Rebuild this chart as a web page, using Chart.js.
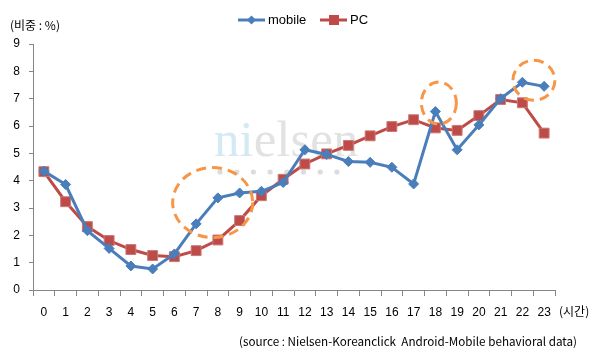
<!DOCTYPE html>
<html>
<head>
<meta charset="utf-8">
<script src="https://cdn.jsdelivr.net/npm/chart.js@4/dist/chart.umd.min.js"></script>
<style>
  html, body { margin: 0; padding: 0; background: #fff; }
  #wrap { width: 595px; height: 363px; position: relative; }
</style>
</head>
<body>
<div id="wrap"><canvas id="chart" width="595" height="363"></canvas></div>
<script>
// 시간대별 비중 (%)
const hours = ['0','1','2','3','4','5','6','7','8','9','10','11','12','13','14','15','16','17','18','19','20','21','22','23'];
const mobile = [4.35, 3.86, 2.17, 1.52, 0.88, 0.77, 1.32, 2.42, 3.37, 3.55, 3.61, 3.93, 5.13, 4.96, 4.70, 4.67, 4.49, 3.88, 6.53, 5.13, 6.04, 7.00, 7.60, 7.45];
const pc = [4.33, 3.23, 2.32, 1.81, 1.48, 1.26, 1.22, 1.44, 1.83, 2.54, 3.45, 4.05, 4.61, 4.98, 5.29, 5.64, 5.98, 6.23, 5.93, 5.84, 6.38, 6.97, 6.85, 5.74];
const yTicks = [0, 1, 2, 3, 4, 5, 6, 7, 8, 9];

// 강조 원 (카테고리 위치, 값, 반지름 px)
const highlights = [
  { at: 7.76, val: 3.2, rx: 40, ry: 35 },
  { at: 18.16, val: 6.84, rx: 17.5, ry: 21 },
  { at: 22.53, val: 7.67, rx: 21, ry: 20 }
];

const blue = '#4A7EBB';
const red = '#BE4B48';
const axisGray = '#868686';
const txtFont = 'Liberation Sans, Arial, sans-serif';

const extras = {
  id: 'extras',
  beforeDatasetsDraw(chart) {
    const ctx = chart.ctx;
    // nielsen 워터마크
    ctx.save();
    ctx.font = '51px "Liberation Serif", serif';
    ctx.textBaseline = 'alphabetic';
    ctx.fillStyle = '#d3e9f4';
    ctx.fillText('ni', 214, 156);
    const w = ctx.measureText('ni').width;
    ctx.fillStyle = '#e2e2e2';
    ctx.fillText('elsen', 214 + w, 156);
    ctx.fillStyle = '#dcdcdc';
    for (let i = 0; i < 8; i++) {
      ctx.beginPath();
      ctx.arc(220 + i * 16.7, 172, 2.6, 0, Math.PI * 2);
      ctx.fill();
    }
    ctx.restore();
  },
  afterDatasetsDraw(chart) {
    const ctx = chart.ctx;
    const xs = chart.scales.x, ys = chart.scales.y;
    ctx.save();
    ctx.strokeStyle = '#F79646';
    ctx.lineWidth = 3;
    ctx.setLineDash([10, 6]);
    highlights.forEach(h => {
      const step = xs.getPixelForValue(1) - xs.getPixelForValue(0);
      const cx = xs.getPixelForValue(0) + h.at * step;
      const cy = ys.getPixelForValue(h.val);
      ctx.beginPath();
      ctx.ellipse(cx, cy, h.rx, h.ry, 0, 0, Math.PI * 2);
      ctx.stroke();
    });
    ctx.restore();
  },
  afterDraw(chart) {
    const ctx = chart.ctx;
    ctx.save();
    ctx.fillStyle = '#000';
    ctx.textBaseline = 'middle';
    ctx.font = '12px "Noto Sans CJK KR", sans-serif';
    ctx.fillText('(비중 : %)', 10, 25);
    ctx.fillText('(시간)', 559, 311);
    ctx.font = '11.7px "Noto Sans CJK KR", sans-serif';
    ctx.textAlign = 'right';
    ctx.fillText('(source : Nielsen-Koreanclick  Android-Mobile behavioral data)', 577, 342);

    // 범례
    ctx.textAlign = 'left';
    ctx.font = '13px ' + txtFont;
    ctx.lineWidth = 3;
    ctx.strokeStyle = blue;
    ctx.beginPath(); ctx.moveTo(238, 20); ctx.lineTo(265, 20); ctx.stroke();
    ctx.fillStyle = blue;
    ctx.beginPath();
    ctx.moveTo(251.5, 15.5); ctx.lineTo(256, 20); ctx.lineTo(251.5, 24.5); ctx.lineTo(247, 20);
    ctx.closePath(); ctx.fill();
    ctx.fillStyle = '#000';
    ctx.fillText('mobile', 268, 20);
    ctx.strokeStyle = red;
    ctx.beginPath(); ctx.moveTo(320, 20); ctx.lineTo(347, 20); ctx.stroke();
    ctx.fillStyle = red;
    ctx.fillRect(329, 15, 10, 10);
    ctx.fillStyle = '#000';
    ctx.fillText('PC', 350, 20);
    ctx.restore();
  }
};

new Chart(document.getElementById('chart'), {
  type: 'line',
  data: {
    labels: hours,
    datasets: [
      {
        label: 'mobile',
        data: mobile,
        borderColor: blue,
        backgroundColor: blue,
        borderWidth: 3,
        pointStyle: 'rectRot',
        pointRadius: 5,
        pointBorderWidth: 1,
        tension: 0
      },
      {
        label: 'PC',
        data: pc,
        borderColor: red,
        backgroundColor: red,
        borderWidth: 3,
        pointStyle: 'rect',
        pointRadius: 7,
        pointBorderColor: '#C77B79',
        pointBorderWidth: 1,
        tension: 0
      }
    ]
  },
  options: {
    responsive: false,
    animation: false,
    layout: { padding: { top: 44, right: 40, bottom: 0, left: 0 } },
    plugins: {
      legend: { display: false },
      tooltip: { enabled: false }
    },
    scales: {
      x: {
        offset: true,
        grid: {
          offset: true,
          drawOnChartArea: false,
          drawTicks: true,
          tickLength: 6,
          color: axisGray
        },
        border: { color: axisGray, width: 1 },
        ticks: {
          color: '#000',
          font: { family: txtFont, size: 12 },
          padding: 9,
          maxRotation: 0,
          autoSkip: false
        },
        afterFit(scale) { scale.height = 73; }
      },
      y: {
        min: 0,
        max: 9,
        afterBuildTicks(scale) { scale.ticks = yTicks.map(v => ({ value: v })); },
        grid: {
          drawOnChartArea: false,
          drawTicks: true,
          tickLength: 4,
          color: axisGray
        },
        border: { color: axisGray, width: 1 },
        ticks: {
          color: '#000',
          font: { family: txtFont, size: 12 },
          padding: 9
        },
        afterFit(scale) { scale.width = 33; }
      }
    }
  },
  plugins: [extras]
});
</script>
</body>
</html>
